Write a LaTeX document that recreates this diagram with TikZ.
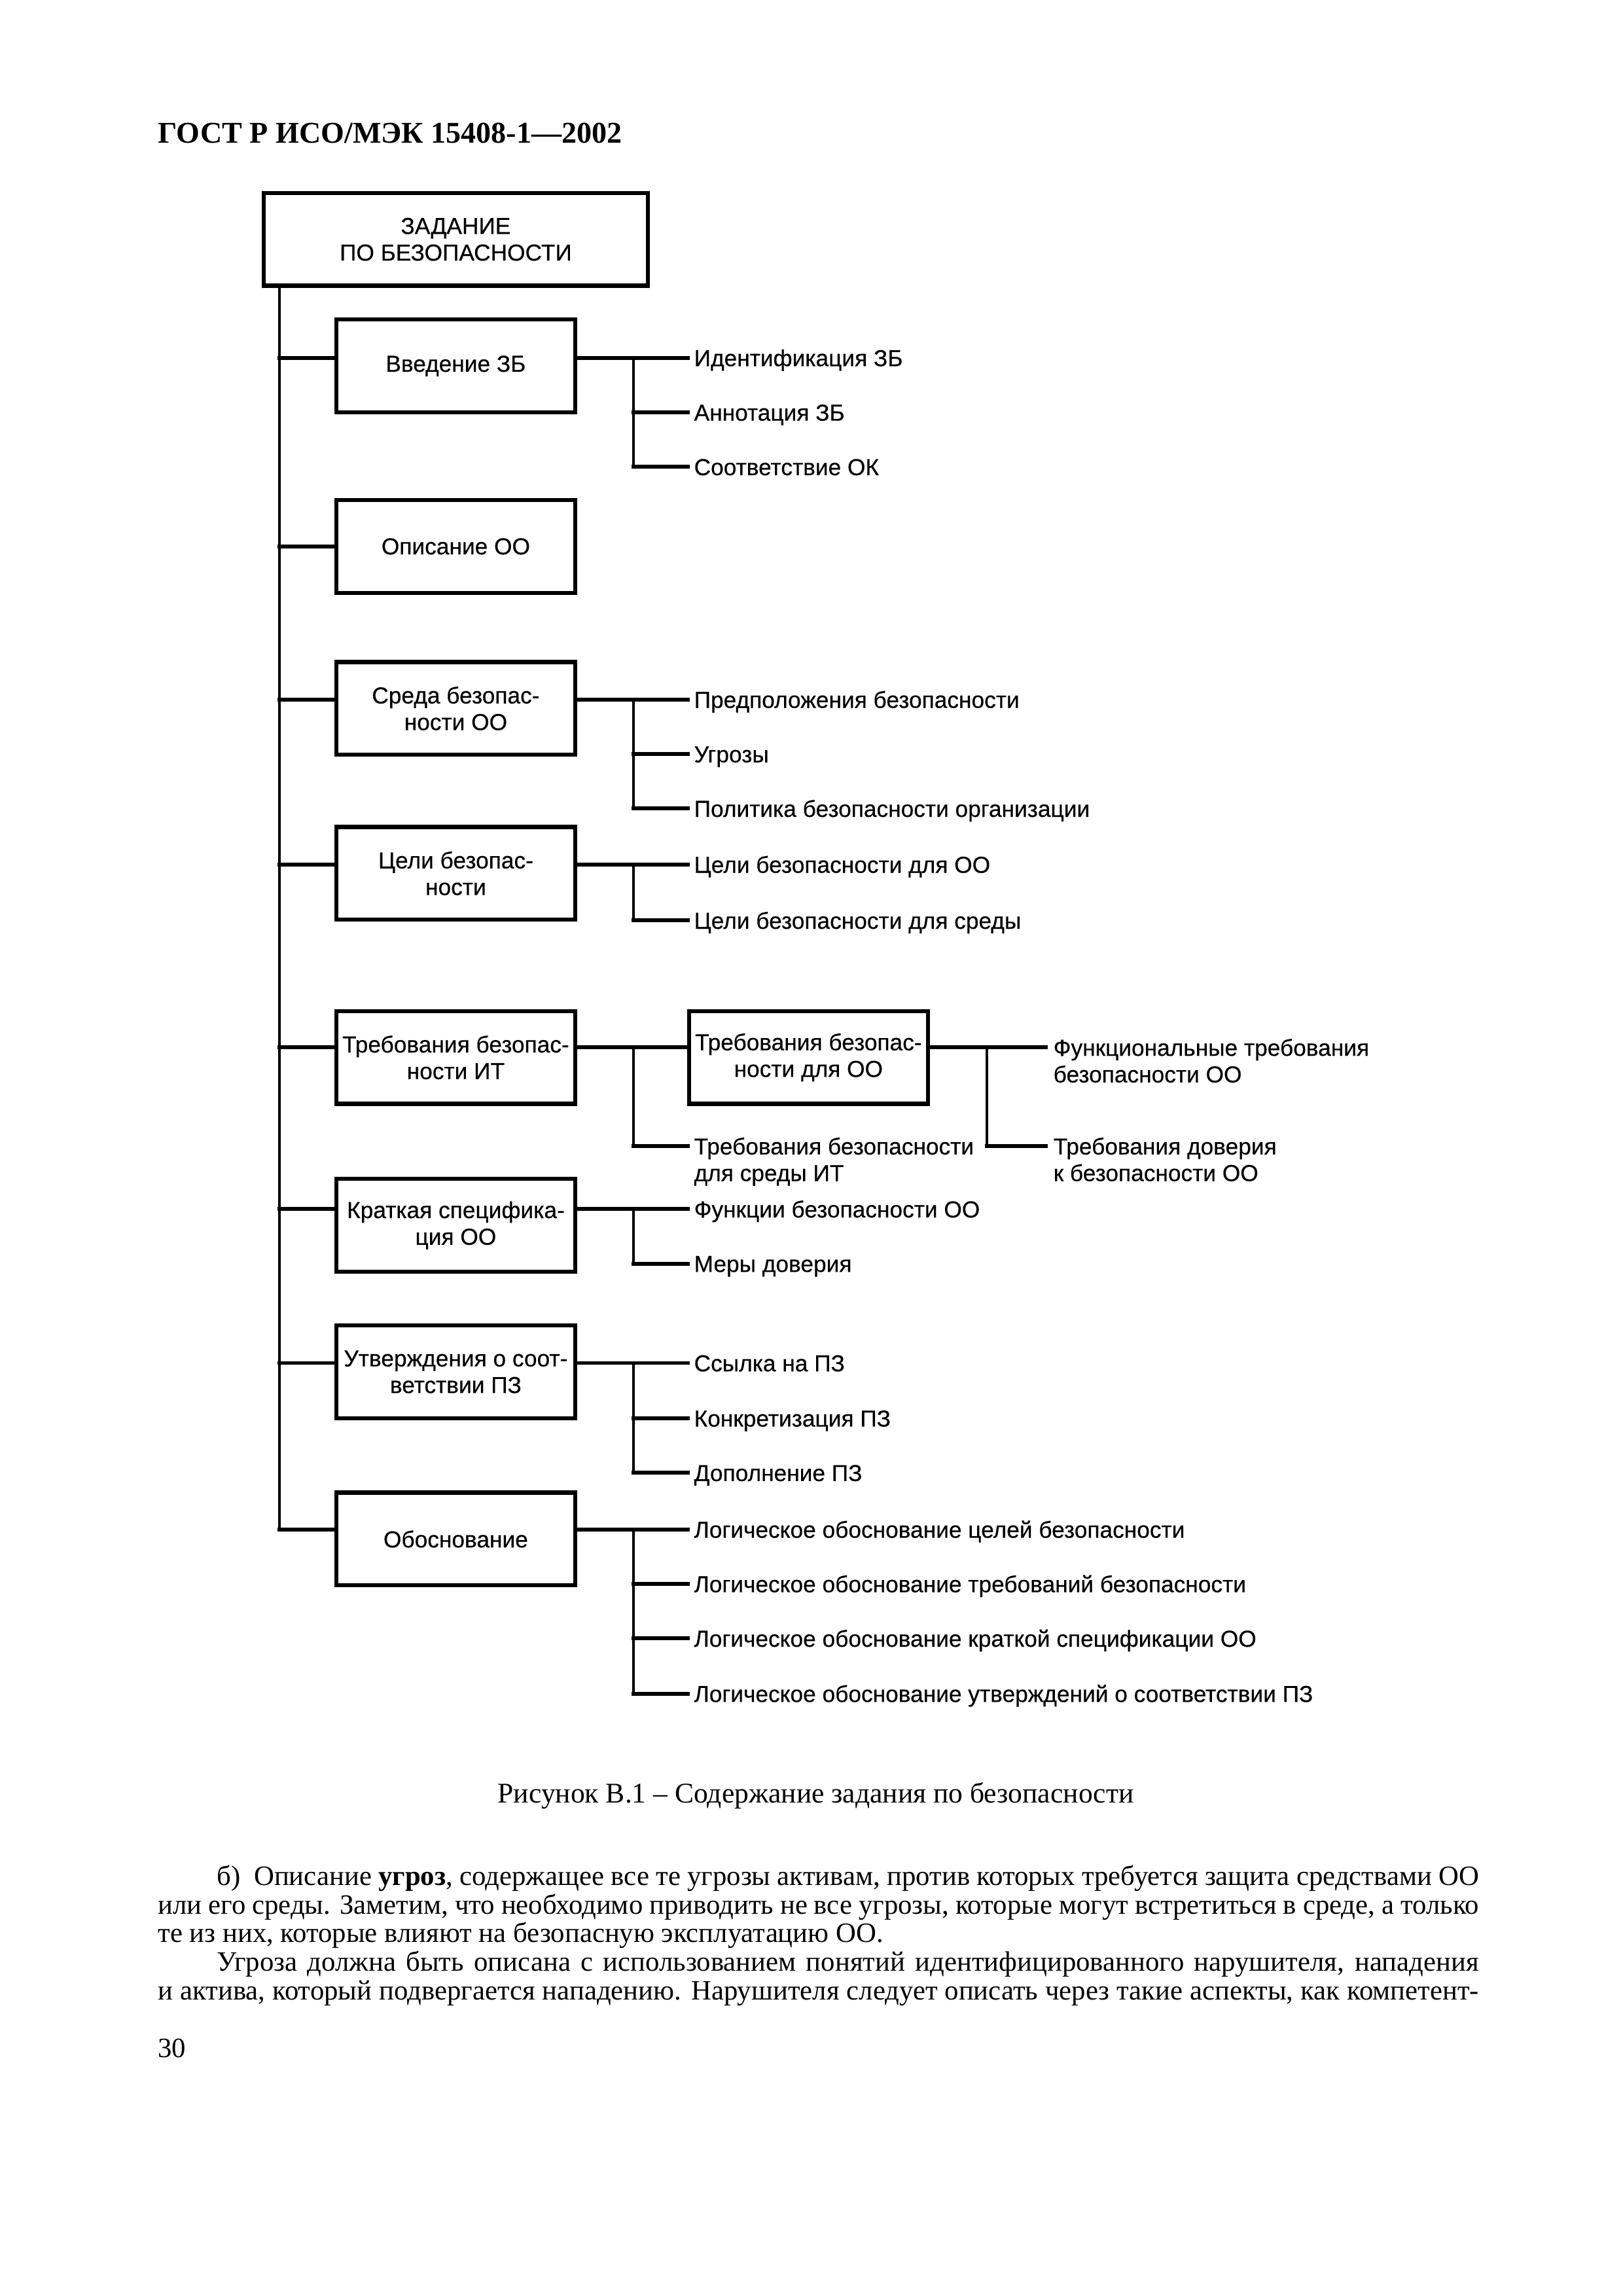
\documentclass[tikz,border=0pt]{standalone}
\usepackage{fontspec}
\setmainfont{Liberation Serif}
\newfontfamily\arialfont{Liberation Sans}[FakeBold=0.4]
\usetikzlibrary{calc}
\newcommand\labfont{\arialfont\fontsize{8.5}{9.8}\selectfont}
\newcommand\bodyfont{\fontsize{10.3}{10.4}\selectfont}
\tikzset{
  box/.style={draw, line width=1.5pt, minimum width=30.9mm, minimum height=12.0mm,
    inner sep=0pt, align=center, font=\labfont},
  lab/.style={anchor=west, inner sep=0pt, font=\labfont, text height=6.1pt, text depth=0pt},
  labtwo/.style={anchor=north west, inner sep=0pt, font=\labfont, align=left},
  hl/.style={line width=1.4pt, line cap=rect},
  vl/.style={line width=1.0pt, line cap=rect},
  body/.style={anchor=base west, inner sep=0pt, font=\bodyfont},
}
\begin{document}
\begin{tikzpicture}[x=0.1905mm, y=-0.1905mm]
\useasboundingbox (0,0) rectangle (1102,1559);
% header
\node[anchor=base west, inner sep=0pt, font=\bfseries\fontsize{11.1}{13}\selectfont] (hdr) at (107,97) {ГОСТ Р ИСО/МЭК 15408-1—2002};
% main box
\node[box, minimum width=49.7mm] (top) at (309.5,162.5) {ЗАДАНИЕ\\ПО БЕЗОПАСНОСТИ};
\coordinate (T) at ($(top.south west)+(12,0)$);
% level-1 boxes
\node[box] (b1) at (309.5,248.5) {Введение ЗБ};
\node[box] (b2) at (309.5,371) {Описание ОО};
\node[box] (b3) at (309.5,481) {Среда безопас-\\ности ОО};
\node[box] (b4) at (309.5,593) {Цели безопас-\\ности};
\node[box] (b5) at (309.5,718) {Требования безопас-\\ности ИТ};
\node[box] (bb) at (549,718) {Требования безопас-\\ности для ОО};
\node[box] (b6) at (309.5,832) {Краткая специфика-\\ция ОО};
\node[box] (b7) at (309.5,931.5) {Утверждения о соот-\\ветствии ПЗ};
\node[box] (b8) at (309.5,1045) {Обоснование};
% labels
\node[lab] (l11) at (471,243) {Идентификация ЗБ};
\node[lab] (l12) at (471,280) {Аннотация ЗБ};
\node[lab] (l13) at (471,317) {Соответствие ОК};
\node[lab] (l31) at (471,475) {Предположения безопасности};
\node[lab] (l32) at (471,512) {Угрозы};
\node[lab] (l33) at (471,549) {Политика безопасности организации};
\node[lab] (l41) at (471,587) {Цели безопасности для ОО};
\node[lab] (l42) at (471,625) {Цели безопасности для среды};
\node[labtwo] (l51) at (471,772) {Требования безопасности\\для среды ИТ};
\node[labtwo] (lb1) at (715,705) {Функциональные требования\\безопасности ОО};
\node[labtwo] (lb2) at (715,772) {Требования доверия\\к безопасности ОО};
\node[lab] (l61) at (471,821) {Функции безопасности ОО};
\node[lab] (l62) at (471,858) {Меры доверия};
\node[lab] (l71) at (471,925.5) {Ссылка на ПЗ};
\node[lab] (l72) at (471,963) {Конкретизация ПЗ};
\node[lab] (l73) at (471,1000) {Дополнение ПЗ};
\node[lab] (l81) at (471,1038.5) {Логическое обоснование целей безопасности};
\node[lab] (l82) at (471,1075.5) {Логическое обоснование требований безопасности};
\node[lab] (l83) at (471,1112.5) {Логическое обоснование краткой спецификации ОО};
\node[lab] (l84) at (471,1150) {Логическое обоснование утверждений о соответствии ПЗ};
% connection points for two-line labels
\coordinate (k5) at ($(lb1.north west)+(-285,6)$);
\coordinate (k5e) at ($(l51.north west)+(-41,6)$);
\coordinate (k5b) at ($(lb1.north west)+(-45,6)$);
\coordinate (k5be) at ($(lb2.north west)+(-45,6)$);
\coordinate (e51) at ($(l51.north west)+(-4,6)$);
\coordinate (eb1) at ($(lb1.north west)+(-5,6)$);
\coordinate (eb2) at ($(lb2.north west)+(-5,6)$);
% main trunk
\draw[vl] (T) -- (T |- l81.west);
\draw[hl] (T |- l11.west) -- (b1.west |- l11.west);
\draw[hl] (T |- b2.west) -- (b2.west);
\draw[hl] (T |- l31.west) -- (b3.west |- l31.west);
\draw[hl] (T |- l41.west) -- (b4.west |- l41.west);
\draw[hl] (T |- k5) -- (b5.west |- k5);
\draw[hl] (T |- l61.west) -- (b6.west |- l61.west);
\draw[hl] (T |- l71.west) -- (b7.west |- l71.west);
\draw[hl] (T |- l81.west) -- (b8.west |- l81.west);
% group 1
\draw[hl] (b1.east |- l11.west) -- ($(l11.west)+(-4,0)$);
\draw[vl] ($(l11.west)+(-41,0)$) -- ($(l13.west)+(-41,0)$);
\draw[hl] ($(l12.west)+(-41,0)$) -- ($(l12.west)+(-4,0)$);
\draw[hl] ($(l13.west)+(-41,0)$) -- ($(l13.west)+(-4,0)$);
% group 3
\draw[hl] (b3.east |- l31.west) -- ($(l31.west)+(-4,0)$);
\draw[vl] ($(l31.west)+(-41,0)$) -- ($(l33.west)+(-41,0)$);
\draw[hl] ($(l32.west)+(-41,0)$) -- ($(l32.west)+(-4,0)$);
\draw[hl] ($(l33.west)+(-41,0)$) -- ($(l33.west)+(-4,0)$);
% group 4
\draw[hl] (b4.east |- l41.west) -- ($(l41.west)+(-4,0)$);
\draw[vl] ($(l41.west)+(-41,0)$) -- ($(l42.west)+(-41,0)$);
\draw[hl] ($(l42.west)+(-41,0)$) -- ($(l42.west)+(-4,0)$);
% group 5
\draw[hl] (b5.east |- k5) -- (bb.west |- k5);
\draw[vl] (k5e |- k5) -- (k5e);
\draw[hl] (k5e) -- (e51);
\draw[hl] (bb.east |- eb1) -- (eb1);
\draw[vl] (k5b) -- (k5be);
\draw[hl] (k5be) -- (eb2);
% group 6
\draw[hl] (b6.east |- l61.west) -- ($(l61.west)+(-4,0)$);
\draw[vl] ($(l61.west)+(-41,0)$) -- ($(l62.west)+(-41,0)$);
\draw[hl] ($(l62.west)+(-41,0)$) -- ($(l62.west)+(-4,0)$);
% group 7
\draw[hl] (b7.east |- l71.west) -- ($(l71.west)+(-4,0)$);
\draw[vl] ($(l71.west)+(-41,0)$) -- ($(l73.west)+(-41,0)$);
\draw[hl] ($(l72.west)+(-41,0)$) -- ($(l72.west)+(-4,0)$);
\draw[hl] ($(l73.west)+(-41,0)$) -- ($(l73.west)+(-4,0)$);
% group 8
\draw[hl] (b8.east |- l81.west) -- ($(l81.west)+(-4,0)$);
\draw[vl] ($(l81.west)+(-41,0)$) -- ($(l84.west)+(-41,0)$);
\draw[hl] ($(l82.west)+(-41,0)$) -- ($(l82.west)+(-4,0)$);
\draw[hl] ($(l83.west)+(-41,0)$) -- ($(l83.west)+(-4,0)$);
\draw[hl] ($(l84.west)+(-41,0)$) -- ($(l84.west)+(-4,0)$);
% caption
\node[anchor=base, inner sep=0pt, font=\fontsize{10.5}{12}\selectfont] (cap) at (554,1224) {Рисунок В.1 – Содержание задания по безопасности};
% body text
\node[body] (p1) at (147,1280) {\makebox[163.26mm][s]{б)\ \ Описание \textbf{угроз}, содержащее все те угрозы активам, против которых требуется защита средствами ОО}};
\node[body] (p2) at (107,1299.5) {\makebox[170.88mm][s]{или его среды. Заметим, что необходимо приводить не все угрозы, которые могут встретиться в среде, а только}};
\node[body] (p3) at (107,1319) {те из них, которые влияют на безопасную эксплуатацию ОО.};
\node[body] (p4) at (147,1338.5) {\makebox[163.26mm][s]{Угроза должна быть описана с использованием понятий идентифицированного нарушителя, нападения}};
\node[body] (p5) at (107,1358) {\makebox[170.88mm][s]{и актива, который подвергается нападению. Нарушителя следует описать через такие аспекты, как компетент-}};
\node[body] (pg) at (107,1397) {30};
\end{tikzpicture}
\end{document}
